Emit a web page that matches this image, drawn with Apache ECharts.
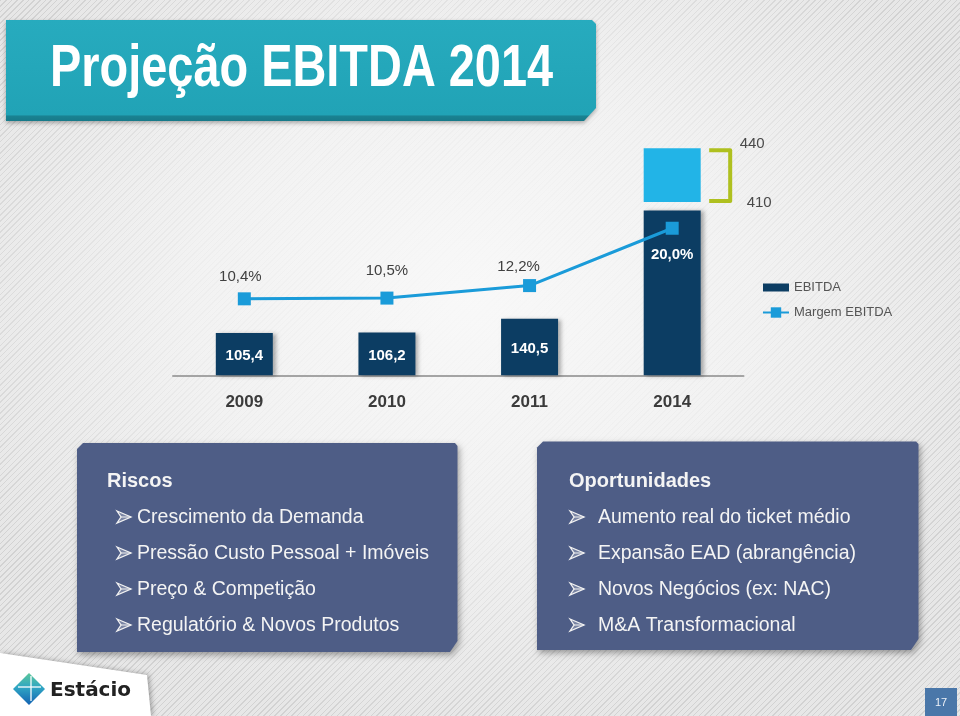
<!DOCTYPE html>
<html><head><meta charset="utf-8">
<script src="https://cdn.jsdelivr.net/npm/echarts@6/dist/echarts.min.js"></script>
<style>
html,body{margin:0;padding:0;width:960px;height:716px;overflow:hidden;}
body{background:
 radial-gradient(ellipse 560px 430px at 470px 300px, rgba(249,249,249,0.97) 0%, rgba(246,246,246,0.75) 50%, rgba(240,240,240,0) 100%),
 repeating-linear-gradient(135deg, #d2d2d2 0px, #d2d2d2 1px, #e7e7e7 1px, #e7e7e7 4px);}
#chart{width:960px;height:716px;}
</style></head><body><div id="chart"></div>
<script>
// ---- data ----
const years = ['2009', '2010', '2011', '2014'];
const ebitda = [105.4, 106.2, 140.5, 410];
const margin = [10.4, 10.5, 12.2, 20.0];
const rangeLow = 410;
const rangeHigh = 440;
const seriesNames = ['EBITDA', 'Margem EBITDA'];
const titleText = 'Projeção EBITDA 2014';
const riscosTitle = 'Riscos';
const riscos = ['Crescimento da Demanda', 'Pressão Custo Pessoal + Imóveis', 'Preço & Competição', 'Regulatório & Novos Produtos'];
const oportTitle = 'Oportunidades';
const oport = ['Aumento real do ticket médio', 'Expansão EAD (abrangência)', 'Novos Negócios (ex: NAC)', 'M&A Transformacional'];
const brand = 'Estácio';
const pageNum = '17';

// ---- helpers ----
const SANS = '"Liberation Sans", Arial, sans-serif';
const fmt = v => v.toFixed(1).replace('.', ',');

const chart = echarts.init(document.getElementById('chart'), null, {renderer: 'canvas'});

const lineLabelCfg = [
  {position: 'top', distance: 8, offset: [-4, 0]},
  {position: 'top', distance: 13, offset: [0, 0]},
  {position: 'top', distance: 5, offset: [-11, 0]},
  {position: 'bottom', distance: 13, offset: [0, 0], color: '#ffffff', fontWeight: 'bold'}
];

const rowsY = [518, 554, 590, 626];
function arrow(x, y) {
  return [
    {type: 'polygon', z: 10, x: x, y: y, shape: {points: [[0, -6], [14, 0], [0, 6], [4, 0]]},
      style: {fill: 'rgba(255,255,255,0.25)', stroke: '#f2f2f2', lineWidth: 1.3, lineJoin: 'miter'}},
    {type: 'line', z: 10, x: x, y: y, shape: {x1: 4, y1: 0, x2: 14, y2: 0}, style: {stroke: '#f2f2f2', lineWidth: 1}}
  ];
}
function panelTexts(title, items, tx, bx, ix) {
  const els = [{type: 'text', z: 10, style: {text: title, x: tx, y: 481, font: 'bold 20px ' + SANS, fill: '#f4f4f4', verticalAlign: 'middle'}}];
  items.forEach((t, i) => {
    els.push(...arrow(bx, rowsY[i] - 1));
    els.push({type: 'text', z: 10, style: {text: t, x: ix, y: rowsY[i], font: '19.5px ' + SANS, fill: '#f4f4f4', verticalAlign: 'middle'}});
  });
  return els;
}

const panelShadow = {shadowBlur: 6, shadowOffsetX: 2, shadowOffsetY: 3, shadowColor: 'rgba(0,0,0,0.35)'};

const graphics = [
  // title banner
  {type: 'polygon', z: 1, shape: {points: [[6, 20], [592, 20], [596, 24], [596, 108], [584, 121], [6, 121]]},
    style: Object.assign({fill: {type: 'linear', x: 0, y: 0, x2: 0, y2: 1, colorStops: [
      {offset: 0, color: '#27abbe'}, {offset: 0.94, color: '#21a3b6'}, {offset: 0.95, color: '#1a8292'}, {offset: 1, color: '#177a89'}]}},
      {shadowBlur: 4, shadowOffsetY: 2, shadowColor: 'rgba(0,0,0,0.3)'})},
  {type: 'text', z: 2, x: 50, y: 70, scaleX: 0.795,
    style: {text: titleText, x: 0, y: 0, font: 'bold 59px ' + SANS, fill: '#ffffff', verticalAlign: 'middle'}},
  // panels
  {type: 'polygon', z: 1, shape: {points: [[83, 443], [455, 443], [457.5, 446], [457.5, 641], [450, 652], [77, 652], [77, 449]]},
    style: Object.assign({fill: '#4e5d86'}, panelShadow)},
  {type: 'polygon', z: 1, shape: {points: [[543, 441.5], [916, 441.5], [918.5, 444], [918.5, 639], [911, 650], [537, 650], [537, 447.5]]},
    style: Object.assign({fill: '#4e5d86'}, panelShadow)},
  ...panelTexts(riscosTitle, riscos, 107, 117, 137),
  ...panelTexts(oportTitle, oport, 569, 570, 598),
  // logo tab
  {type: 'polygon', z: 1, shape: {points: [[0, 653], [147, 675], [151, 716], [0, 716]]},
    style: {fill: '#ffffff', shadowBlur: 5, shadowOffsetX: 2, shadowColor: 'rgba(0,0,0,0.3)'}},
  {type: 'polygon', z: 2, shape: {points: [[29, 673], [45, 689], [29, 705], [13, 689]]},
    style: {fill: {type: 'linear', x: 0, y: 0, x2: 0, y2: 1, colorStops: [
      {offset: 0, color: '#5cc79a'}, {offset: 0.45, color: '#2fa6c4'}, {offset: 1, color: '#1462b2'}]}}},
  {type: 'line', z: 3, shape: {x1: 18, y1: 687, x2: 41, y2: 687}, style: {stroke: 'rgba(255,255,255,0.85)', lineWidth: 1.5}},
  {type: 'line', z: 3, shape: {x1: 31, y1: 676, x2: 31, y2: 701}, style: {stroke: 'rgba(255,255,255,0.85)', lineWidth: 1.5}},
  {type: 'text', z: 3, style: {text: brand, x: 50, y: 691, font: 'bold 20px "DejaVu Sans"', fill: '#222222', verticalAlign: 'middle'}},
  // page number
  {type: 'rect', z: 1, shape: {x: 925, y: 688, width: 32, height: 28}, style: {fill: '#4a77a9'}},
  {type: 'text', z: 2, style: {text: pageNum, x: 941, y: 703, font: '11px ' + SANS, fill: '#eef2f8', align: 'center', verticalAlign: 'middle'}}
];

const option = {
  animation: false,
  backgroundColor: 'transparent',
  grid: {left: 173, right: 216.5, top: 140, bottom: 340.7},
  legend: {
    orient: 'vertical', left: 757, top: 276, itemWidth: 26, itemHeight: 13, itemGap: 12,
    selectedMode: false,
    textStyle: {fontFamily: SANS, fontSize: 13, color: '#555555'},
    data: [{name: seriesNames[0], icon: 'path://M0 0H26V8H0Z'}, {name: seriesNames[1]}]
  },
  xAxis: {
    type: 'category', data: years,
    axisLine: {lineStyle: {color: '#a4a4a4', width: 2}},
    axisTick: {show: false},
    axisLabel: {margin: 19, fontFamily: SANS, fontWeight: 'bold', fontSize: 17, color: '#3b3b3b'}
  },
  yAxis: [
    {type: 'value', min: 0, max: 585, show: false},
    {type: 'value', min: 313.2, max: 444.6, show: false},
    {type: 'value', min: 0, max: 32, show: false}
  ],
  series: [
    {
      name: seriesNames[0], type: 'bar', yAxisIndex: 0, barWidth: 57, barGap: '-100%',
      data: ebitda.map((v, i) => ({value: v, label: {show: i < ebitda.length - 1}})),
      itemStyle: {color: '#0c3d63', shadowBlur: 4, shadowOffsetX: 3, shadowOffsetY: 1, shadowColor: 'rgba(0,0,0,0.3)'},
      label: {show: true, position: 'inside', offset: [0, 2], formatter: p => fmt(p.value),
        color: '#ffffff', fontFamily: SANS, fontWeight: 'bold', fontSize: 15}
    },
    {
      name: 'base', type: 'bar', yAxisIndex: 1, stack: 'range', barWidth: 57, barGap: '-100%', silent: true,
      data: years.map((y, i) => i === years.length - 1 ? rangeLow : '-'),
      itemStyle: {color: 'rgba(0,0,0,0)'},
      label: {show: true, position: [103, 1], align: 'left', verticalAlign: 'middle', formatter: String(rangeLow),
        fontFamily: SANS, fontSize: 15, color: '#4a4a4a'}
    },
    {
      name: 'range', type: 'bar', yAxisIndex: 1, stack: 'range', barWidth: 57, barGap: '-100%',
      data: years.map((y, i) => i === years.length - 1 ? rangeHigh - rangeLow : '-'),
      itemStyle: {color: '#22b4e7'},
      label: {show: true, position: [96, -4], align: 'left', verticalAlign: 'middle', formatter: String(rangeHigh),
        fontFamily: SANS, fontSize: 15, color: '#4a4a4a'}
    },
    {
      name: 'bracket', type: 'custom', yAxisIndex: 1, z: 4,
      data: [[years.length - 1, rangeLow, rangeHigh]],
      encode: {x: 0, y: [1, 2]},
      renderItem: (params, api) => {
        const lo = api.coord([api.value(0), api.value(1)]);
        const hi = api.coord([api.value(0), api.value(2)]);
        const x0 = lo[0] + 37, x1 = lo[0] + 58;
        return {type: 'polyline', shape: {points: [[x0, hi[1] + 2], [x1, hi[1] + 2], [x1, lo[1] - 1], [x0, lo[1] - 1]]},
          style: {stroke: '#afc01f', lineWidth: 4, fill: null, lineJoin: 'round'}};
      }
    },
    {
      name: seriesNames[1], type: 'line', yAxisIndex: 2, z: 5,
      data: margin.map((v, i) => ({value: v, label: lineLabelCfg[i]})),
      symbol: 'rect', symbolSize: 13,
      lineStyle: {width: 3, color: '#1a9bd9'},
      itemStyle: {color: '#1a9bd9'},
      label: {show: true, formatter: p => fmt(p.value) + '%', fontFamily: SANS, fontSize: 15, color: '#404040'}
    }
  ],
  graphic: graphics
};
chart.setOption(option);
</script>
</body></html>
